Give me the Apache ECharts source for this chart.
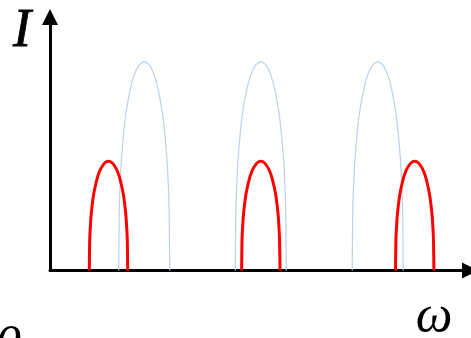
<!DOCTYPE html>
<html>
<head>
<meta charset="utf-8">
<style>
html,body{margin:0;padding:0;background:#fff;}
#chart{width:471px;height:338px;}
</style>
<script src="https://cdn.jsdelivr.net/npm/echarts@6/dist/echarts.min.js"></script>
</head>
<body>
<div id="chart"></div>
<script>
// Intensity values along each arch
var blueI = [0, 57.3, 82.1, 107.4, 138.7, 159.3, 180.6, 194.5, 205.2, 208.5, 205.2, 194.5, 180.6, 159.3, 138.7, 107.4, 82.1, 57.3, 0];
var redI  = [0, 30.0, 42.9, 56.1, 72.5, 83.3, 94.4, 101.7, 107.3, 109, 107.3, 101.7, 94.4, 83.3, 72.5, 56.1, 42.9, 30.0, 0];
// Frequency positions (ω) of the points of each arch
var blueW1 = [68.7, 69.2, 70.0, 71.2, 73.8, 76.3, 80.2, 84.0, 89.1, 94.2, 99.3, 104.4, 108.2, 112.1, 114.6, 117.2, 118.4, 119.2, 119.7];
var blueW2 = [185.3, 185.8, 186.6, 187.8, 190.4, 192.9, 196.8, 200.6, 205.7, 210.8, 215.9, 221.0, 224.8, 228.7, 231.2, 233.8, 235.0, 235.8, 236.3];
var blueW3 = [302.2, 302.7, 303.5, 304.7, 307.3, 309.8, 313.7, 317.5, 322.6, 327.7, 332.8, 337.9, 341.7, 345.6, 348.1, 350.7, 351.9, 352.7, 353.2];
var redW1 = [39.3, 39.7, 40.3, 41.2, 43.1, 45.1, 47.9, 50.8, 54.7, 58.5, 62.3, 66.2, 69.1, 71.9, 73.9, 75.8, 76.7, 77.3, 77.7];
var redW2 = [191.6, 192.0, 192.6, 193.5, 195.4, 197.4, 200.2, 203.1, 207.0, 210.8, 214.6, 218.5, 221.4, 224.2, 226.2, 228.1, 229.0, 229.6, 230.0];
var redW3 = [345.5, 345.9, 346.5, 347.4, 349.3, 351.3, 354.1, 357.0, 360.9, 364.7, 368.5, 372.4, 375.3, 378.1, 380.1, 382.0, 382.9, 383.5, 383.9];
var yLabel = 'I';
var xLabel = 'ω';
var originLabel = '0';

function pairs(xs, ys) { return xs.map(function (x, i) { return [x, ys[i]]; }); }

var blueColor = '#B8D2EE';
var redColor = '#FF0000';
function arch(xs, ys, color, width) {
  return {
    type: 'line', data: pairs(xs, ys), smooth: 0.2, showSymbol: false, silent: true,
    lineStyle: { color: color, width: width }
  };
}

var chart = echarts.init(document.getElementById('chart'), null, { renderer: 'canvas' });
var axisLineStyle = { show: true, onZero: true, symbol: ['none', 'triangle'], symbolSize: [16, 16], lineStyle: { color: '#000', width: 3 } };
chart.setOption({
  animation: false,
  backgroundColor: '#fff',
  grid: { left: 50, right: 1, top: 17, bottom: 67.5, containLabel: false },
  xAxis: { type: 'value', min: 0, max: 420, axisLine: axisLineStyle, axisTick: { show: false }, axisLabel: { show: false }, splitLine: { show: false } },
  yAxis: { type: 'value', min: 0, max: 253, axisLine: axisLineStyle, axisTick: { show: false }, axisLabel: { show: false }, splitLine: { show: false } },
  series: [
    arch(blueW1, blueI, blueColor, 1.2),
    arch(blueW2, blueI, blueColor, 1.2),
    arch(blueW3, blueI, blueColor, 1.2),
    arch(redW1, redI, redColor, 3),
    arch(redW2, redI, redColor, 3),
    arch(redW3, redI, redColor, 3)
  ],
  graphic: [
    { type: 'text', style: { x: 22, y: 32, text: yLabel, font: 'italic 54px "Liberation Serif"', fill: '#000', stroke: '#000', lineWidth: 0.8, textAlign: 'center', textVerticalAlign: 'middle' } },
    { type: 'text', style: { x: 434, y: 317, text: xLabel, font: 'italic 52px "Liberation Serif"', fill: '#000', textAlign: 'center', textVerticalAlign: 'middle' } },
    { type: 'text', style: { x: 8, y: 347, text: originLabel, font: 'italic 52px "Liberation Serif"', fill: '#000', textAlign: 'center', textVerticalAlign: 'middle' } }
  ]
});
</script>
</body>
</html>
